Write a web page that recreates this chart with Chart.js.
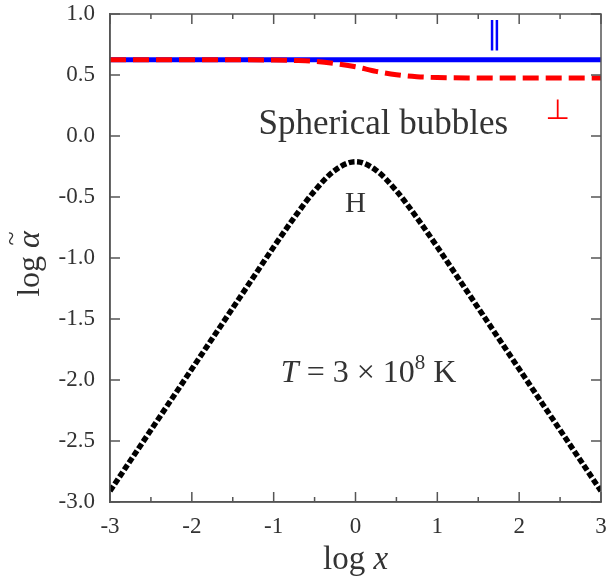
<!DOCTYPE html>
<html><head><meta charset="utf-8">
<script src="https://cdn.jsdelivr.net/npm/chart.js@4/dist/chart.umd.min.js"></script>
<style>html,body{margin:0;padding:0;background:#fff}#wrap{width:613px;height:580px}</style>
</head><body><div id="wrap"><canvas id="c" width="613" height="580"></canvas></div>
<script>
// ---- data ----
const xTicks = [-3, -2, -1, 0, 1, 2, 3];
const xMinorTicks = [-2.5, -1.5, -0.5, 0.5, 1.5, 2.5];
const yTicks = [1.0, 0.5, 0.0, -0.5, -1.0, -1.5, -2.0, -2.5, -3.0];

const parX = [-3, -2, -1, 0, 1, 2, 3];
const parY = [0.625, 0.625, 0.625, 0.625, 0.625, 0.625, 0.625];

const perpX = [-3, -2, -1.5, -1, -0.75, -0.5, -0.25, 0, 0.25, 0.5, 0.75, 1, 1.5, 2, 3];
const perpY = [0.625, 0.625, 0.625, 0.623, 0.619, 0.612, 0.594, 0.568, 0.530, 0.502, 0.486, 0.479, 0.476, 0.475, 0.475];

const hX = [-3, -2.75, -2.5, -2.25, -2, -1.75, -1.5, -1.25, -1, -0.75, -0.5, -0.25, 0, 0.25, 0.5, 0.75, 1, 1.25, 1.5, 1.75, 2, 2.25, 2.5, 2.75, 3];
const hY = [-2.91, -2.66, -2.41, -2.16, -1.91, -1.66, -1.41, -1.16, -0.91, -0.67, -0.45, -0.28, -0.21, -0.28, -0.45, -0.67, -0.91, -1.16, -1.41, -1.66, -1.91, -2.16, -2.41, -2.66, -2.91];

const SERIF = '"Liberation Serif", "DejaVu Serif", serif';
const AXIS_COLOR = '#555';
const TEXT_COLOR = '#333';

function pts(xs, ys) { return xs.map((x, i) => ({ x, y: ys[i] })); }

const framePlugin = {
  id: 'frame',
  afterDatasetsDraw(chart) {
    const { ctx, chartArea: a, scales: { x, y } } = chart;
    ctx.save();
    // inward ticks
    ctx.strokeStyle = AXIS_COLOR;
    ctx.lineWidth = 1.5;
    ctx.beginPath();
    xTicks.forEach(v => {
      const px = x.getPixelForValue(v);
      ctx.moveTo(px, a.bottom); ctx.lineTo(px, a.bottom - 10);
      ctx.moveTo(px, a.top); ctx.lineTo(px, a.top + 10);
    });
    xMinorTicks.forEach(v => {
      const px = x.getPixelForValue(v);
      ctx.moveTo(px, a.bottom); ctx.lineTo(px, a.bottom - 5);
      ctx.moveTo(px, a.top); ctx.lineTo(px, a.top + 5);
    });
    yTicks.forEach(v => {
      const py = y.getPixelForValue(v);
      ctx.moveTo(a.left, py); ctx.lineTo(a.left + 10, py);
      ctx.moveTo(a.right, py); ctx.lineTo(a.right - 10, py);
    });
    ctx.stroke();
    // frame
    ctx.strokeRect(a.left, a.top, a.right - a.left, a.bottom - a.top);

    // annotations
    ctx.fillStyle = TEXT_COLOR;
    ctx.textBaseline = 'middle';
    ctx.textAlign = 'center';
    ctx.font = '35px ' + SERIF;
    ctx.fillText('Spherical bubbles', x.getPixelForValue(0.34), y.getPixelForValue(0.09));
    ctx.font = '29px ' + SERIF;
    ctx.fillText('H', x.getPixelForValue(0.0), y.getPixelForValue(-0.56));

    // parallel / perpendicular symbols
    ctx.fillStyle = '#0000ff';
    ctx.font = '30px "DejaVu Sans", sans-serif';
    ctx.fillText('\u2016', x.getPixelForValue(1.7), y.getPixelForValue(0.83));
    ctx.fillStyle = '#ff0000';
    ctx.textBaseline = 'alphabetic';
    ctx.font = '28px "DejaVu Sans", sans-serif';
    ctx.fillText('\u22A5', x.getPixelForValue(2.47), y.getPixelForValue(0.14));

    // T = 3 x 10^8 K
    ctx.fillStyle = TEXT_COLOR;
    ctx.textAlign = 'left';
    ctx.textBaseline = 'alphabetic';
    const parts = [
      { t: 'T', f: 'italic 32px ' + SERIF, dy: 0 },
      { t: ' = 3 \u00D7 10', f: '32px ' + SERIF, dy: 0 },
      { t: '8', f: '21px ' + SERIF, dy: -13 },
      { t: ' K', f: '32px ' + SERIF, dy: 0 }
    ];
    let w = 0;
    parts.forEach(p => { ctx.font = p.f; p.w = ctx.measureText(p.t).width; w += p.w; });
    let cx = x.getPixelForValue(0.16) - w / 2;
    const by = y.getPixelForValue(-1.93) + 11;
    parts.forEach(p => { ctx.font = p.f; ctx.fillText(p.t, cx, by + p.dy); cx += p.w; });

    // x axis title: log x
    const xt = [
      { t: 'log ', f: '33px ' + SERIF },
      { t: 'x', f: 'italic 33px ' + SERIF }
    ];
    w = 0;
    xt.forEach(p => { ctx.font = p.f; p.w = ctx.measureText(p.t).width; w += p.w; });
    cx = (a.left + a.right) / 2 - w / 2;
    xt.forEach(p => { ctx.font = p.f; ctx.fillText(p.t, cx, 569); cx += p.w; });

    // y axis title: log alpha-tilde (rotated)
    ctx.save();
    ctx.translate(39, (a.top + a.bottom) / 2 + 6);
    ctx.rotate(-Math.PI / 2);
    const yt = [
      { t: 'log ', f: '32px ' + SERIF },
      { t: '\u03B1', f: 'italic 32px ' + SERIF }
    ];
    w = 0;
    yt.forEach(p => { ctx.font = p.f; p.w = ctx.measureText(p.t).width; w += p.w; });
    cx = -w / 2;
    yt.forEach(p => { ctx.font = p.f; ctx.fillText(p.t, cx, 0); cx += p.w; });
    ctx.font = '26px ' + SERIF;
    ctx.textAlign = 'center';
    ctx.fillText('~', cx - yt[1].w / 2 + 1, -20);
    ctx.restore();

    ctx.restore();
  }
};

new Chart(document.getElementById('c'), {
  type: 'scatter',
  data: {
    datasets: [
      { label: '\u22A5', data: pts(perpX, perpY), showLine: true, borderColor: '#ff0000', borderWidth: 5,
        borderDash: [16, 7], pointRadius: 0, cubicInterpolationMode: 'monotone', order: 1 },
      { label: '\u2016', data: pts(parX, parY), showLine: true, borderColor: '#0000ff', borderWidth: 5,
        pointRadius: 0, order: 2 },
      { label: 'H', data: pts(hX, hY), showLine: true, borderColor: '#000000', borderWidth: 5.5,
        borderDash: [6, 2.5], pointRadius: 0, cubicInterpolationMode: 'monotone', order: 0 }
    ]
  },
  options: {
    responsive: false,
    animation: false,
    layout: { padding: { top: 14, right: 12, left: 0, bottom: 0 } },
    plugins: { legend: { display: false }, tooltip: { enabled: false } },
    scales: {
      x: {
        type: 'linear', min: -3, max: 3,
        afterFit: s => { s.height = 78; s.paddingLeft = 0; s.paddingRight = 0; },
        afterBuildTicks: s => { s.ticks = xTicks.map(v => ({ value: v })); },
        grid: { display: false, drawTicks: false },
        border: { display: true, color: AXIS_COLOR, width: 1.5 },
        ticks: { padding: 11, color: TEXT_COLOR, font: { family: SERIF, size: 23 }, callback: v => String(v), maxRotation: 0 }
      },
      y: {
        type: 'linear', min: -3, max: 1,
        afterFit: s => { s.width = 110; s.paddingTop = 0; s.paddingBottom = 0; },
        afterBuildTicks: s => { s.ticks = yTicks.map(v => ({ value: v })); },
        grid: { display: false, drawTicks: false },
        border: { display: true, color: AXIS_COLOR, width: 1.5 },
        ticks: { padding: 15, color: TEXT_COLOR, font: { family: SERIF, size: 23 }, callback: v => v.toFixed(1) }
      }
    }
  },
  plugins: [framePlugin]
});
</script>
</body></html>
